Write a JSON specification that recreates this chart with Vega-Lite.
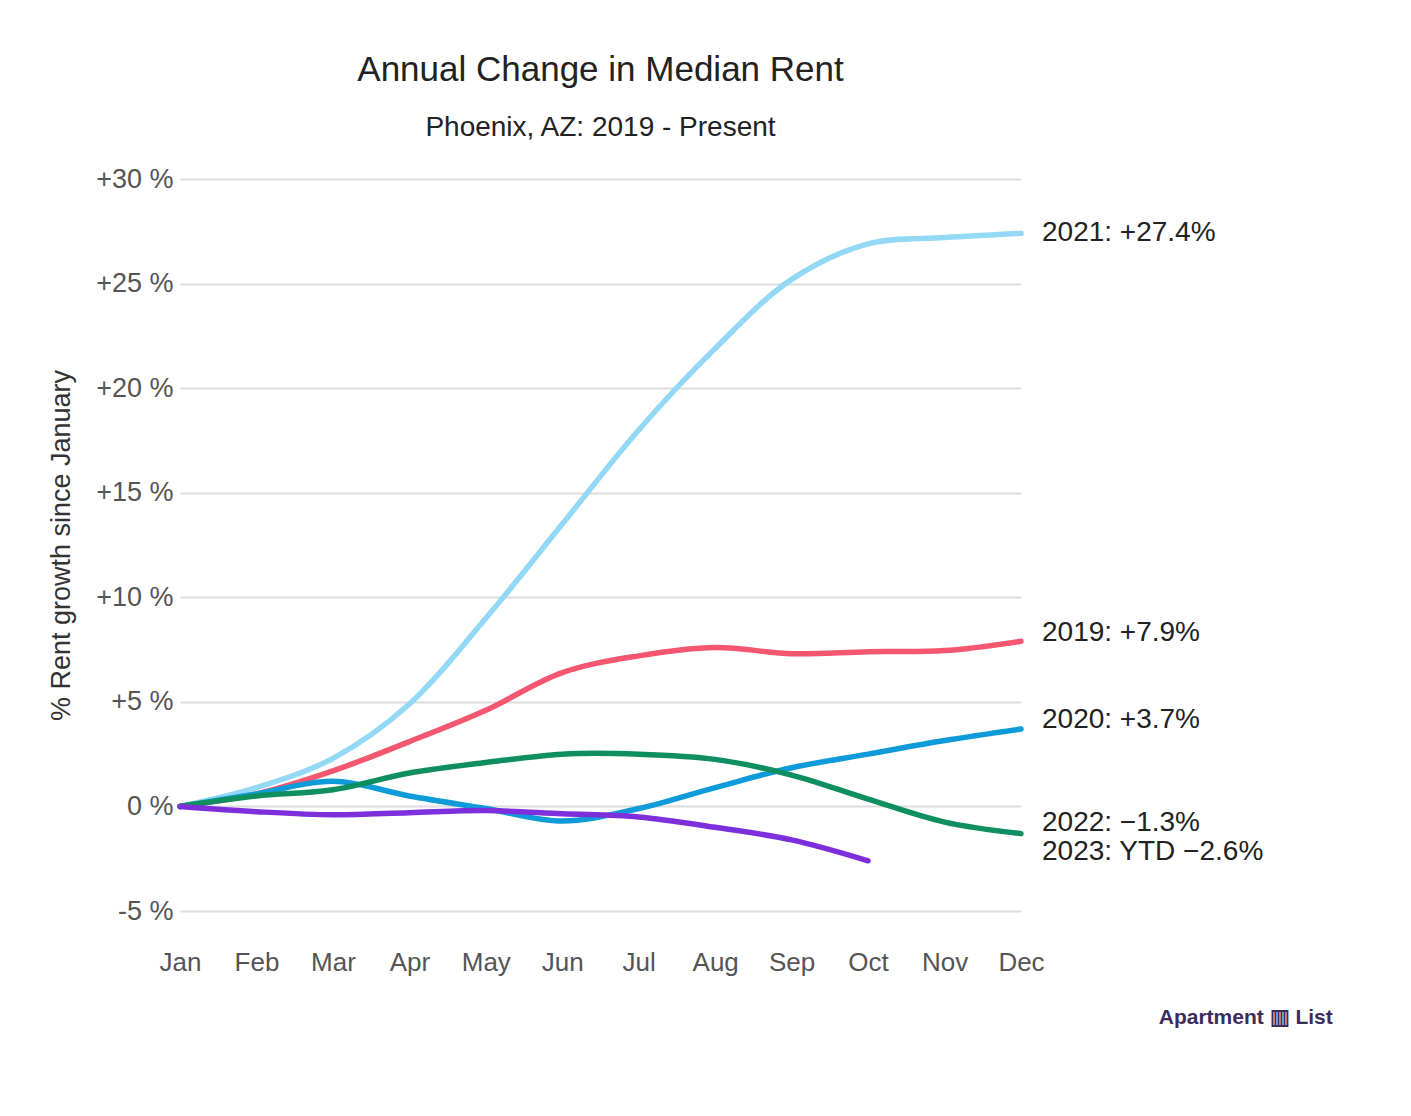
{
  "$schema": "https://vega.github.io/schema/vega-lite/v6.json",
  "width": 841,
  "height": 732,
  "autosize": {"type": "none"},
  "padding": {"left": 180, "top": 179, "right": 390, "bottom": 205},
  "background": "white",
  "title": {
    "text": "Annual Change in Median Rent",
    "subtitle": "Phoenix, AZ: 2019 - Present",
    "font": "Liberation Sans",
    "fontSize": 35,
    "fontWeight": "normal",
    "color": "#222222",
    "subtitleFont": "Liberation Sans",
    "subtitleFontSize": 28,
    "subtitleColor": "#222222",
    "subtitlePadding": 26,
    "offset": 23,
    "anchor": "middle"
  },
  "config": {"view": {"stroke": null}, "font": "Liberation Sans"},
  "datasets": {
    "series": [
      {"year": "2021", "month": 1, "value": 0}, {"year": "2021", "month": 2, "value": 0.9}, {"year": "2021", "month": 3, "value": 2.3}, {"year": "2021", "month": 4, "value": 4.9}, {"year": "2021", "month": 5, "value": 9.0}, {"year": "2021", "month": 6, "value": 13.5}, {"year": "2021", "month": 7, "value": 18.0}, {"year": "2021", "month": 8, "value": 21.9}, {"year": "2021", "month": 9, "value": 25.2}, {"year": "2021", "month": 10, "value": 26.9}, {"year": "2021", "month": 11, "value": 27.2}, {"year": "2021", "month": 12, "value": 27.4},
      {"year": "2019", "month": 1, "value": 0}, {"year": "2019", "month": 2, "value": 0.6}, {"year": "2019", "month": 3, "value": 1.7}, {"year": "2019", "month": 4, "value": 3.1}, {"year": "2019", "month": 5, "value": 4.6}, {"year": "2019", "month": 6, "value": 6.4}, {"year": "2019", "month": 7, "value": 7.2}, {"year": "2019", "month": 8, "value": 7.6}, {"year": "2019", "month": 9, "value": 7.3}, {"year": "2019", "month": 10, "value": 7.4}, {"year": "2019", "month": 11, "value": 7.45}, {"year": "2019", "month": 12, "value": 7.9},
      {"year": "2020", "month": 1, "value": 0}, {"year": "2020", "month": 2, "value": 0.6}, {"year": "2020", "month": 3, "value": 1.2}, {"year": "2020", "month": 4, "value": 0.5}, {"year": "2020", "month": 5, "value": -0.1}, {"year": "2020", "month": 6, "value": -0.7}, {"year": "2020", "month": 7, "value": -0.1}, {"year": "2020", "month": 8, "value": 0.9}, {"year": "2020", "month": 9, "value": 1.85}, {"year": "2020", "month": 10, "value": 2.5}, {"year": "2020", "month": 11, "value": 3.15}, {"year": "2020", "month": 12, "value": 3.7},
      {"year": "2022", "month": 1, "value": 0}, {"year": "2022", "month": 2, "value": 0.5}, {"year": "2022", "month": 3, "value": 0.8}, {"year": "2022", "month": 4, "value": 1.6}, {"year": "2022", "month": 5, "value": 2.1}, {"year": "2022", "month": 6, "value": 2.5}, {"year": "2022", "month": 7, "value": 2.5}, {"year": "2022", "month": 8, "value": 2.25}, {"year": "2022", "month": 9, "value": 1.5}, {"year": "2022", "month": 10, "value": 0.35}, {"year": "2022", "month": 11, "value": -0.75}, {"year": "2022", "month": 12, "value": -1.3},
      {"year": "2023", "month": 1, "value": 0}, {"year": "2023", "month": 2, "value": -0.25}, {"year": "2023", "month": 3, "value": -0.4}, {"year": "2023", "month": 4, "value": -0.3}, {"year": "2023", "month": 5, "value": -0.2}, {"year": "2023", "month": 6, "value": -0.35}, {"year": "2023", "month": 7, "value": -0.5}, {"year": "2023", "month": 8, "value": -1.0}, {"year": "2023", "month": 9, "value": -1.6}, {"year": "2023", "month": 10, "value": -2.6}
    ],
    "labels": [
      {"year": "2021", "month": 12, "pos": 27.4, "label": "2021: +27.4%"},
      {"year": "2019", "month": 12, "pos": 8.3, "label": "2019: +7.9%"},
      {"year": "2020", "month": 12, "pos": 4.15, "label": "2020: +3.7%"},
      {"year": "2022", "month": 12, "pos": -0.8, "label": "2022: \u22121.3%"},
      {"year": "2023", "month": 12, "pos": -2.2, "label": "2023: YTD \u22122.6%"}
    ],
    "logo": [
      {"month": 14.94, "pos": -10.1, "label": "Apartment \u25A5 List"}
    ]
  },
  "layer": [
    {
      "data": {"name": "series"},
      "mark": {"type": "line", "interpolate": "catmull-rom", "strokeWidth": 5.5, "strokeCap": "round"},
      "encoding": {
        "x": {
          "field": "month", "type": "quantitative",
          "scale": {"domain": [1, 12], "nice": false, "zero": false},
          "axis": {
            "values": [1, 2, 3, 4, 5, 6, 7, 8, 9, 10, 11, 12],
            "labelExpr": "['Jan','Feb','Mar','Apr','May','Jun','Jul','Aug','Sep','Oct','Nov','Dec'][datum.value - 1]",
            "grid": false, "domain": false, "ticks": false,
            "labelFlush": false, "labelOverlap": false, "labelBound": false,
            "labelPadding": 38, "labelFontSize": 26, "labelColor": "#555555",
            "labelFont": "Liberation Sans", "title": null
          }
        },
        "y": {
          "field": "value", "type": "quantitative",
          "scale": {"domain": [-5, 30], "nice": false, "zero": false},
          "axis": {
            "values": [-5, 0, 5, 10, 15, 20, 25, 30],
            "labelExpr": "datum.value > 0 ? '+' + datum.value + ' %' : datum.value + ' %'",
            "domain": false, "ticks": false,
            "gridColor": "#dddddd", "gridWidth": 2,
            "labelPadding": 7, "labelFontSize": 27, "labelColor": "#555555",
            "labelFont": "Liberation Sans",
            "title": "% Rent growth since January",
            "titleFont": "Liberation Sans", "titleFontSize": 27, "titleFontWeight": "normal",
            "titleColor": "#333333", "titlePadding": 20
          }
        },
        "color": {
          "field": "year", "type": "nominal",
          "scale": {"domain": ["2021", "2019", "2020", "2022", "2023"], "range": ["#93d9f6", "#f4576f", "#0f9bd9", "#0f8f5f", "#7d2fdc"]},
          "legend": null
        },
        "order": {"field": "month", "type": "quantitative"}
      }
    },
    {
      "data": {"name": "labels"},
      "mark": {"type": "text", "align": "left", "baseline": "middle", "dx": 21, "fontSize": 28, "font": "Liberation Sans", "color": "#222222"},
      "encoding": {
        "x": {"field": "month", "type": "quantitative"},
        "y": {"field": "pos", "type": "quantitative"},
        "text": {"field": "label"}
      }
    },
    {
      "data": {"name": "logo"},
      "mark": {"type": "text", "align": "center", "baseline": "middle", "fontSize": 21, "fontWeight": "bold", "font": "Liberation Sans", "color": "#3b2c5e"},
      "encoding": {
        "x": {"field": "month", "type": "quantitative"},
        "y": {"field": "pos", "type": "quantitative"},
        "text": {"field": "label"}
      }
    }
  ]
}
